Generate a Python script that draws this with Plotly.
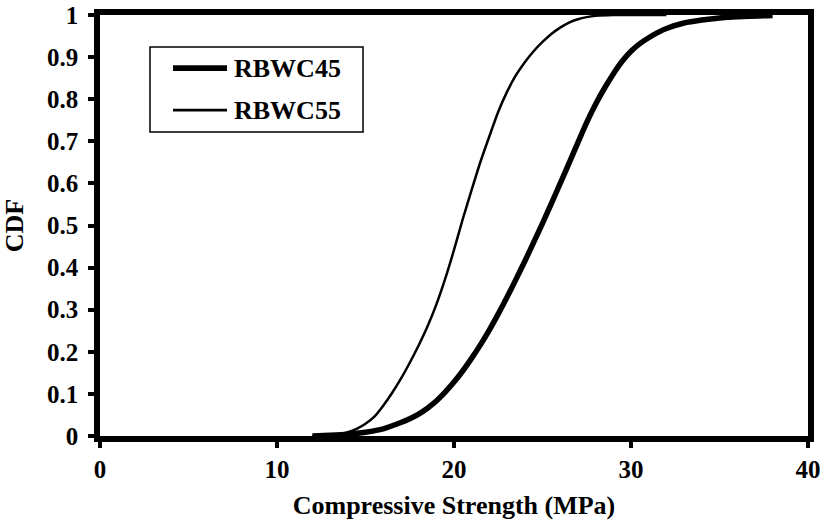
import plotly.graph_objects as go

series_names = ["RBWC45", "RBWC55"]

# RBWC45 (thick curve)
x45 = [12, 13, 14, 15, 16, 17, 17.5, 18, 18.5, 19, 19.5, 20, 20.5, 21, 21.5, 22, 22.5, 23,
       23.5, 24, 24.5, 25, 25.5, 26, 26.5, 27, 27.5, 28, 28.5, 29, 29.5, 30, 30.5, 31, 31.5,
       32, 33, 34, 35, 36, 38]
y45 = [0, 0.0015, 0.004, 0.009, 0.017, 0.032, 0.041, 0.052, 0.066, 0.083, 0.104, 0.128,
       0.155, 0.185, 0.217, 0.252, 0.29, 0.33, 0.372, 0.415, 0.46, 0.505, 0.552, 0.6, 0.648,
       0.697, 0.745, 0.788, 0.826, 0.86, 0.89, 0.914, 0.932, 0.946, 0.958, 0.968, 0.981, 0.988,
       0.993, 0.996, 0.999]

# RBWC55 (thin curve)
x55 = [12, 13, 13.5, 14, 14.5, 15, 15.5, 16, 16.5, 17, 17.5, 18, 18.5, 19, 19.5, 20, 20.5,
       21, 21.5, 22, 22.5, 23, 23.5, 24, 24.5, 25, 25.5, 26, 26.5, 27, 27.5, 28, 29, 32]
y55 = [0, 0.0015, 0.004, 0.009, 0.017, 0.029, 0.046, 0.072, 0.102, 0.136, 0.174, 0.215, 0.26,
       0.312, 0.373, 0.442, 0.516, 0.585, 0.652, 0.712, 0.77, 0.818, 0.857, 0.888, 0.914,
       0.936, 0.955, 0.97, 0.982, 0.99, 0.995, 0.998, 1.0, 1.0]

x_ticks = [0, 10, 20, 30, 40]
y_ticks = [0, 0.1, 0.2, 0.3, 0.4, 0.5, 0.6, 0.7, 0.8, 0.9, 1]
y_labels = ["0", "0.1", "0.2", "0.3", "0.4", "0.5", "0.6", "0.7", "0.8", "0.9", "1"]

FONT = "Liberation Serif"
widths = [5.5, 2.5]

fig = go.Figure()
fig.add_trace(go.Scatter(x=x45, y=y45, mode="lines", name=series_names[0], showlegend=False,
                         line=dict(color="black", width=widths[0], shape="spline", smoothing=0.6)))
fig.add_trace(go.Scatter(x=x55, y=y55, mode="lines", name=series_names[1], showlegend=False,
                         line=dict(color="black", width=widths[1], shape="spline", smoothing=0.6)))

axis_common = dict(showline=True, linecolor="black", linewidth=5.5, mirror=True,
                   showgrid=False, zeroline=False, ticks="outside", ticklen=6,
                   tickwidth=4, tickcolor="black", automargin=False,
                   tickfont=dict(family=FONT, size=25, color="black", weight="bold"))

fig.update_xaxes(range=[0, 40], tickvals=x_ticks, ticktext=[str(v) for v in x_ticks],
                 title=dict(text="Compressive Strength (MPa)",
                            font=dict(family=FONT, size=26, color="black", weight="bold"),
                            standoff=16),
                 **axis_common)
fig.update_yaxes(range=[0, 1], tickvals=y_ticks, ticktext=[t + "\u2009" for t in y_labels],
                 title=dict(text="CDF", font=dict(family=FONT, size=26, color="black", weight="bold"),
                            standoff=20),
                 **axis_common)

# custom legend box (paper coordinates)
lx0, lx1, ly0, ly1 = 0.0706, 0.3715, 0.722, 0.924
fig.add_shape(type="rect", xref="paper", yref="paper", x0=lx0, x1=lx1, y0=ly0, y1=ly1,
              line=dict(color="black", width=1.5), fillcolor="white", layer="above")
entry_y = [0.874, 0.774]
for name, ey, w in zip(series_names, entry_y, widths):
    fig.add_shape(type="line", xref="paper", yref="paper", x0=0.1031, x1=0.1794, y0=ey, y1=ey,
                  line=dict(color="black", width=w + 0.3), layer="above")
    fig.add_annotation(xref="paper", yref="paper", x=0.1864, y=ey, text=name, showarrow=False,
                       xanchor="left", yanchor="middle",
                       font=dict(family=FONT, size=26, color="black", weight="bold"))

fig.update_layout(
    width=825, height=522,
    margin=dict(l=100, r=17, t=15, b=86),
    plot_bgcolor="white", paper_bgcolor="white",
    showlegend=False,
)

fig.write_html("out.html")
